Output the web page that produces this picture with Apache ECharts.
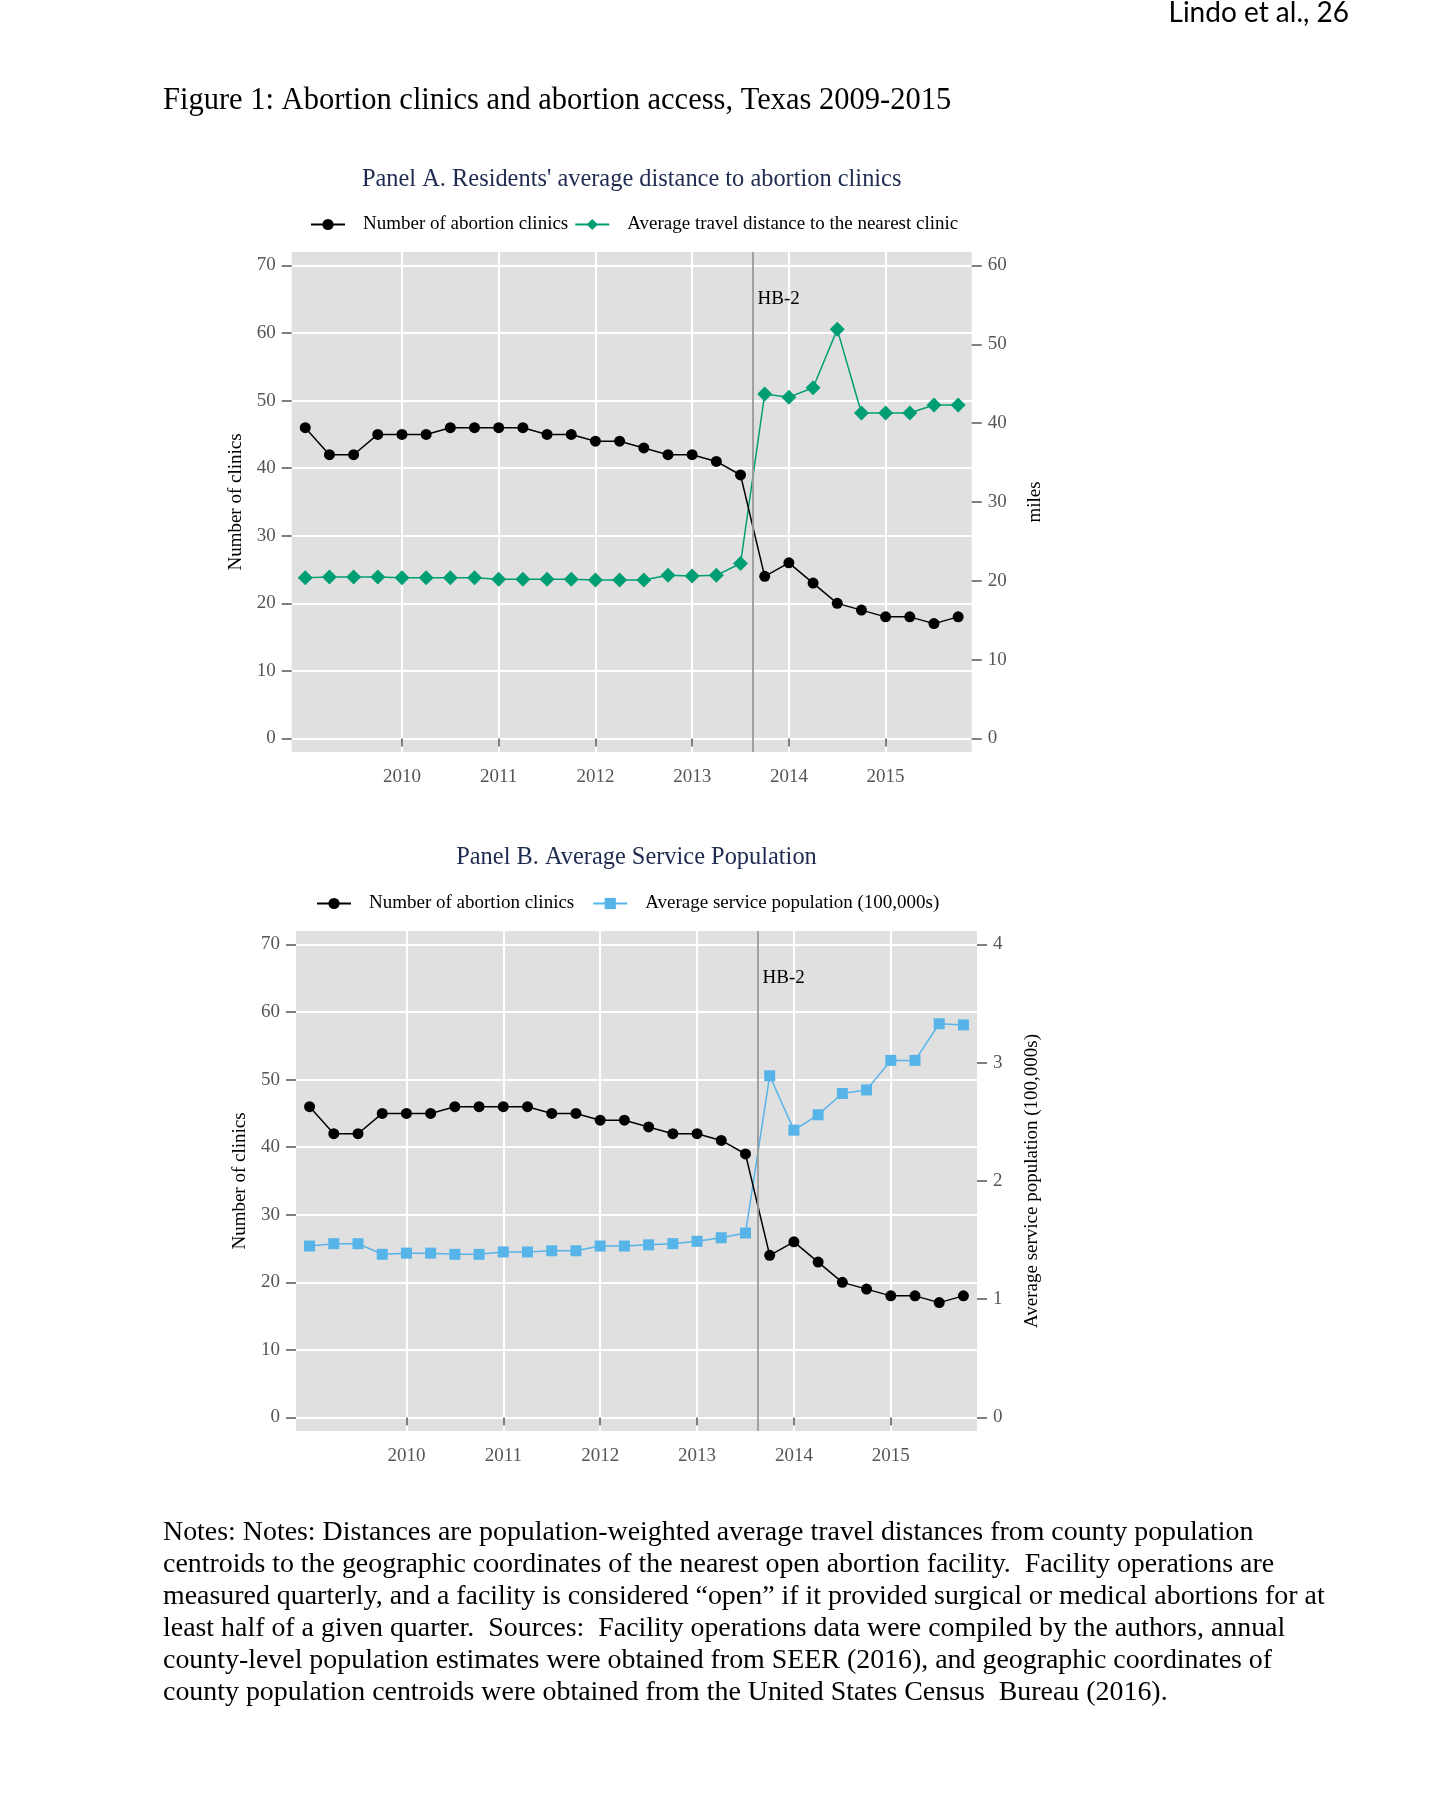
<!DOCTYPE html>
<html>
<head>
<meta charset="utf-8">
<script src="https://cdn.jsdelivr.net/npm/echarts@6/dist/echarts.min.js"></script>
<style>
  html, body { margin: 0; padding: 0; background: #ffffff; }
  #chart { width: 1456px; height: 1803px; }
</style>
</head>
<body>
<div id="chart"></div>
<script>
// ---------------- DATA ----------------
const quarters = [2009, 2009.25, 2009.5, 2009.75, 2010, 2010.25, 2010.5, 2010.75,
                  2011, 2011.25, 2011.5, 2011.75, 2012, 2012.25, 2012.5, 2012.75,
                  2013, 2013.25, 2013.5, 2013.75, 2014, 2014.25, 2014.5, 2014.75,
                  2015, 2015.25, 2015.5, 2015.75];
const clinics = [46, 42, 42, 45, 45, 45, 46, 46, 46, 46, 45, 45, 44, 44, 43, 42,
                 42, 41, 39, 24, 26, 23, 20, 19, 18, 18, 17, 18];
const travelMiles = [20.4, 20.5, 20.5, 20.5, 20.4, 20.4, 20.4, 20.4, 20.2, 20.2, 20.2, 20.2,
                     20.1, 20.1, 20.1, 20.7, 20.6, 20.7, 22.2, 43.7, 43.3, 44.5, 51.9, 41.3,
                     41.3, 41.3, 42.3, 42.3];
const servicePop = [1.45, 1.47, 1.47, 1.38, 1.39, 1.39, 1.38, 1.38, 1.40, 1.40, 1.41, 1.41,
                    1.45, 1.45, 1.46, 1.47, 1.49, 1.52, 1.56, 2.89, 2.43, 2.56, 2.74, 2.77,
                    3.02, 3.02, 3.33, 3.32];
const yearTicks = [2010, 2011, 2012, 2013, 2014, 2015];
const clinicTicks = [0, 10, 20, 30, 40, 50, 60, 70];
const milesTicks = [0, 10, 20, 30, 40, 50, 60];
const popTicks = [0, 1, 2, 3, 4];
const hb2Date = 2013.625;
const hb2Label = 'HB-2';
const nameClinics = 'Number of abortion clinics';
const nameTravel = 'Average travel distance to the nearest clinic';
const namePop = 'Average service population (100,000s)';

// ---------------- STYLE ----------------
const SERIF = '"Liberation Serif", "Times New Roman", serif';
const tickColor = '#555555';
const bg = '#E0E0E0';
const greenC = '#009E73';
const blueC = '#56B4E9';

function pairs(vals) { return quarters.map((q, i) => [q, vals[i]]); }

function xAxisCfg(gridIndex) {
  return {
    type: 'value', gridIndex: gridIndex, min: 2008.86, max: 2015.89,
    axisLine: { show: false },
    axisTick: { show: true, length: 8, customValues: yearTicks, lineStyle: { color: tickColor, width: 1.5 } },
    axisLabel: { customValues: yearTicks, margin: 16, color: tickColor, fontFamily: SERIF, fontSize: 19,
                 formatter: function (v) { return String(v); } },
    splitLine: { show: true, lineStyle: { color: '#ffffff', width: 2 } }
  };
}
function yAxisCfg(gridIndex, pos, min, max, ticks, name, nameGap, split) {
  return {
    type: 'value', gridIndex: gridIndex, position: pos, min: min, max: max,
    name: name, nameLocation: 'middle', nameGap: nameGap, nameRotate: 90,
    nameTextStyle: { color: '#000', fontFamily: SERIF, fontSize: 19 },
    axisLine: { show: false },
    axisTick: { show: true, length: 10, customValues: ticks, lineStyle: { color: tickColor, width: 1.5 } },
    axisLabel: { customValues: ticks, margin: 16, color: tickColor, fontFamily: SERIF, fontSize: 19 },
    splitLine: { show: split, lineStyle: { color: '#ffffff', width: 2 } }
  };
}

const clinicStyle = {
  type: 'line', symbol: 'circle', symbolSize: 11,
  lineStyle: { color: '#000', width: 1.5 }, itemStyle: { color: '#000' }, z: 4
};

function hbMarks() {
  return {
    markLine: {
      silent: true, symbol: 'none',
      lineStyle: { color: '#9a9a9a', width: 1.8, type: 'solid' },
      label: { show: false },
      data: [{ xAxis: hb2Date }]
    },
    markPoint: {
      silent: true, symbol: 'circle', symbolSize: 0,
      label: { show: true, position: 'right', distance: 5, formatter: hb2Label,
               color: '#000', fontFamily: SERIF, fontSize: 19 },
      data: [{ coord: [hb2Date, 65.0] }]
    }
  };
}

const option = {
  animation: false,
  backgroundColor: '#ffffff',
  grid: [
    { left: 291.7, top: 252, width: 680, height: 500, show: true, backgroundColor: bg, borderWidth: 0 },
    { left: 296, top: 931, width: 681, height: 500, show: true, backgroundColor: bg, borderWidth: 0 }
  ],
  legend: [
    {
      left: 305, top: 210, itemWidth: 34, itemHeight: 14, itemGap: 6,
      data: [nameClinics, nameTravel],
      textStyle: { fontFamily: SERIF, fontSize: 19, color: '#000', padding: [0, 0, 0, 13] }
    },
    {
      left: 311, top: 889, itemWidth: 34, itemHeight: 14, itemGap: 18,
      data: [nameClinics, namePop],
      textStyle: { fontFamily: SERIF, fontSize: 19, color: '#000', padding: [0, 0, 0, 13] }
    }
  ],
  xAxis: [xAxisCfg(0), xAxisCfg(1)],
  yAxis: [
    yAxisCfg(0, 'left', -2, 72, clinicTicks, 'Number of clinics', 46, true),
    yAxisCfg(0, 'right', -2 * 60 / 70, 72 * 60 / 70, milesTicks, 'miles', 54, false),
    yAxisCfg(1, 'left', -2, 72, clinicTicks, 'Number of clinics', 46, true),
    yAxisCfg(1, 'right', -2 / 17.5, 72 / 17.5, popTicks, namePop, 46, false)
  ],
  series: [
    Object.assign({ name: nameClinics, xAxisIndex: 0, yAxisIndex: 0, data: pairs(clinics) }, clinicStyle, hbMarks()),
    {
      name: nameTravel, type: 'line', xAxisIndex: 0, yAxisIndex: 1, data: pairs(travelMiles),
      symbol: 'diamond', symbolSize: 15, z: 3,
      lineStyle: { color: greenC, width: 1.5 }, itemStyle: { color: greenC }
    },
    Object.assign({ name: nameClinics, xAxisIndex: 1, yAxisIndex: 2, data: pairs(clinics) }, clinicStyle, hbMarks()),
    {
      name: namePop, type: 'line', xAxisIndex: 1, yAxisIndex: 3, data: pairs(servicePop),
      symbol: 'rect', symbolSize: 11, z: 3,
      lineStyle: { color: blueC, width: 1.5 }, itemStyle: { color: blueC }
    }
  ],
  graphic: [
    { type: 'text', right: 107, top: -1,
      style: { text: 'Lindo et al., 26', font: '28px Lato, "Open Sans", sans-serif', fill: '#000' } },
    { type: 'text', x: 163, y: 101,
      style: { text: 'Figure 1: Abortion clinics and abortion access, Texas 2009-2015',
               font: '30.5px ' + SERIF, fill: '#000', textVerticalAlign: 'middle' } },
    { type: 'text', x: 631.7, y: 180,
      style: { text: "Panel A. Residents' average distance to abortion clinics",
               font: '24.4px ' + SERIF, fill: '#1E2A4F', textAlign: 'center', textVerticalAlign: 'middle' } },
    { type: 'text', x: 636.5, y: 858,
      style: { text: 'Panel B. Average Service Population',
               font: '24.4px ' + SERIF, fill: '#1E2A4F', textAlign: 'center', textVerticalAlign: 'middle' } },
    { type: 'text', x: 163, y: 1517,
      style: {
        text: 'Notes: Notes: Distances are population-weighted average travel distances from county population\n' +
              'centroids to the geographic coordinates of the nearest open abortion facility.  Facility operations are\n' +
              'measured quarterly, and a facility is considered \u201copen\u201d if it provided surgical or medical abortions for at\n' +
              'least half of a given quarter.  Sources:  Facility operations data were compiled by the authors, annual\n' +
              'county-level population estimates were obtained from SEER (2016), and geographic coordinates of\n' +
              'county population centroids were obtained from the United States Census  Bureau (2016).',
        font: '27.9px ' + SERIF, fill: '#000', lineHeight: 31.9
      } }
  ]
};

const chart = echarts.init(document.getElementById('chart'), null, { renderer: 'canvas' });
chart.setOption(option);
</script>
</body>
</html>
